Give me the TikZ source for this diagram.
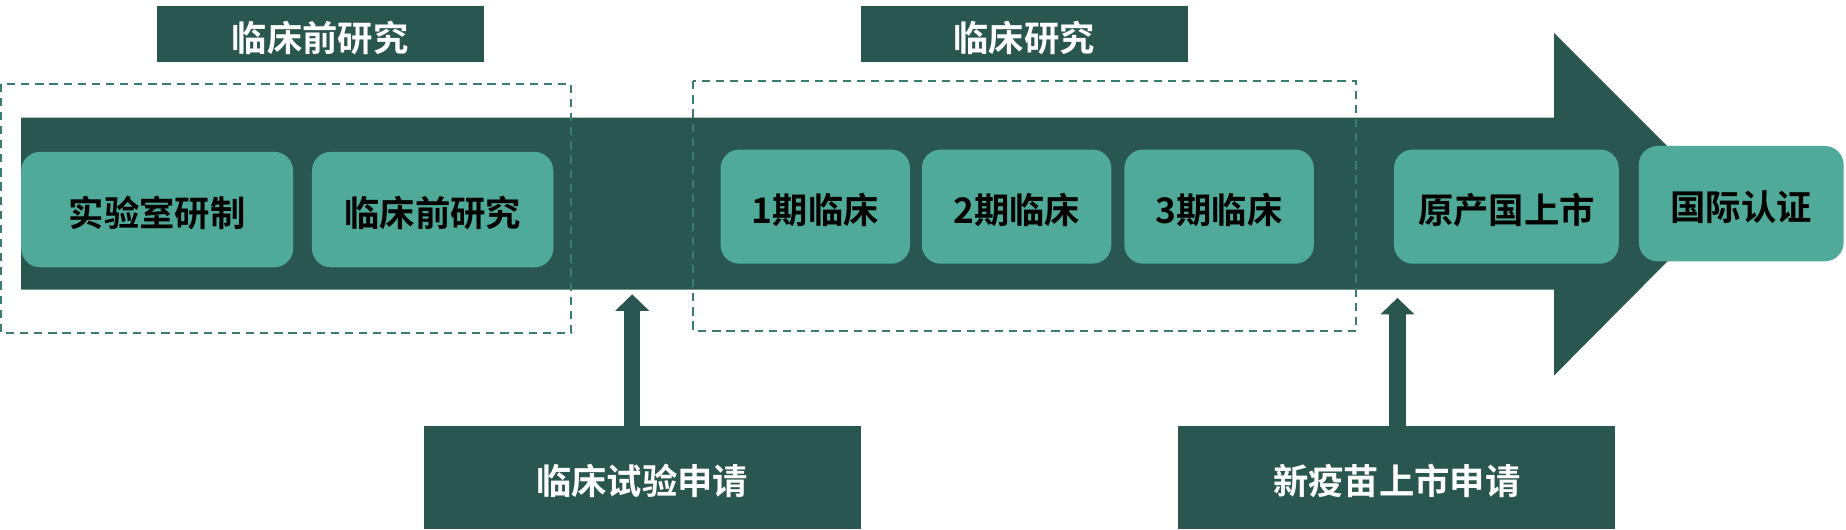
\documentclass[tikz,border=0pt]{standalone}
\usepackage{fontspec}
\newfontfamily\cjk{Noto Sans CJK SC Bold}
\usetikzlibrary{arrows.meta}
\definecolor{dkgreen}{HTML}{29564E}
\definecolor{ltgreen}{HTML}{50AA9A}
\definecolor{dashgreen}{HTML}{3A7C71}
\tikzset{
  stagebox/.style={fill=ltgreen, rounded corners=16pt, inner sep=0pt, text height=29pt, text depth=0pt, font=\cjk\fontsize{30}{32}\selectfont, text=black},
  headbox/.style={fill=dkgreen, inner sep=0pt, text height=29pt, text depth=0pt, font=\cjk\fontsize{30}{32}\selectfont, text=white},
  groupbox/.style={draw=dashgreen, line width=1.6pt, dash pattern=on 7pt off 5pt},
  uparrow/.style={draw=dkgreen, line width=14pt, -{Triangle[width=28pt,length=14pt]}},
}
\begin{document}
\begin{tikzpicture}[x=1pt,y=-1pt]
\useasboundingbox (0,0) rectangle (1568,450);
% big arrow
\fill[dkgreen] (18,100) -- (1320,100) -- (1320,28) -- (1465,173) -- (1320,319) -- (1320,246) -- (18,246) -- cycle;
% dashed groups
\draw[groupbox] (1,71) rectangle (485,283);
\draw[groupbox] (589,69) rectangle (1152,281);
% headers
\node[headbox, minimum width=278pt, minimum height=48pt] (h1) at (272,29) {临床前研究};
\node[headbox, minimum width=278pt, minimum height=48pt] (h2) at (870,29) {临床研究};
% stages
\node[stagebox, minimum width=231pt, minimum height=98pt] (s1) at (133.5,178) {实验室研制};
\node[stagebox, minimum width=205pt, minimum height=98pt] (s2) at (367.5,178) {临床前研究};
\node[stagebox, minimum width=161pt, minimum height=97pt] (s3) at (692.5,175.5) {1期临床};
\node[stagebox, minimum width=161pt, minimum height=97pt] (s4) at (863.5,175.5) {2期临床};
\node[stagebox, minimum width=161pt, minimum height=97pt] (s5) at (1035.5,175.5) {3期临床};
\node[stagebox, minimum width=191pt, minimum height=97pt] (s6) at (1279.5,175.5) {原产国上市};
\node[stagebox, minimum width=174pt, minimum height=98pt] (s7) at (1479,173) {国际认证};
% applications
\node[headbox, minimum width=371pt, minimum height=87pt] (r1) at (545.5,405.5) {临床试验申请};
\node[headbox, minimum width=371pt, minimum height=87pt] (r2) at (1186.5,405.5) {新疫苗上市申请};
\coordinate (t1) at (537,250);
\coordinate (t2) at (1187,253);
\draw[uparrow] (t1 |- r1.north) -- (t1);
\draw[uparrow] (t2 |- r2.north) -- (t2);
\end{tikzpicture}
\end{document}
